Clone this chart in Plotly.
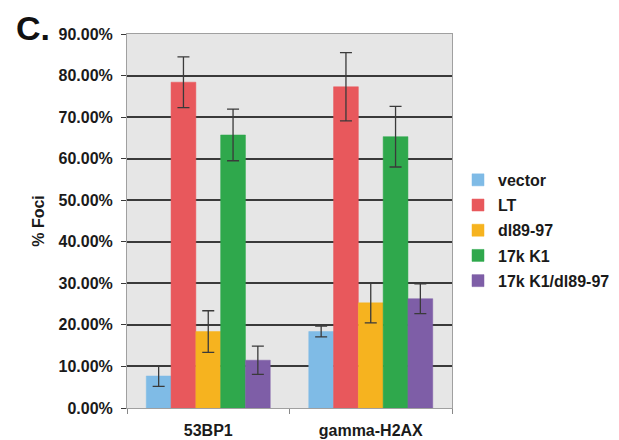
import plotly.graph_objects as go

categories = ["53BP1", "gamma-H2AX"]
series_names = ["vector", "LT", "dl89-97", "17k K1", "17k K1/dl89-97"]
values = {
    "vector": [7.7, 18.4],
    "LT": [78.4, 77.3],
    "dl89-97": [18.4, 25.3],
    "17k K1": [65.7, 65.3],
    "17k K1/dl89-97": [11.5, 26.3],
}
errors = {
    "vector": [2.5, 1.3],
    "LT": [6.1, 8.2],
    "dl89-97": [5.0, 4.8],
    "17k K1": [6.2, 7.3],
    "17k K1/dl89-97": [3.4, 3.6],
}
colors = {
    "vector": "#7fbbe6",
    "LT": "#e8585c",
    "dl89-97": "#f6b31f",
    "17k K1": "#2fa84c",
    "17k K1/dl89-97": "#7e5ea7",
}
tick_vals = [0, 10, 20, 30, 40, 50, 60, 70, 80, 90]
tick_text = ["0.00%", "10.00%", "20.00%", "30.00%", "40.00%", "50.00%",
             "60.00%", "70.00%", "80.00%", "90.00%"]

FONT = "Liberation Sans, Arial, Helvetica, sans-serif"

# the page body adds an 8px offset; the figure is sized to fill the rest
W, H = 611, 432
L, R, T, B = 119, 167, 25.5, 32.3
PW, PH = W - L - R, H - T - B

fig = go.Figure()
for name in series_names:
    fig.add_trace(go.Bar(
        name=name,
        legendgroup=name,
        x=categories,
        y=values[name],
        marker=dict(color=colors[name], line=dict(color=colors[name], width=0.5)),
        error_y=dict(type="data", array=errors[name], visible=True,
                     color="#3a3a3a", thickness=1.3, width=6),
    ))

fig.update_layout(
    width=W, height=H,
    margin=dict(l=L, r=R, t=T, b=B, autoexpand=False),
    paper_bgcolor="white",
    plot_bgcolor="#e6e6e6",
    barmode="group",
    bargap=0.237,
    bargroupgap=0,
    font=dict(family=FONT, size=16, color="#1a1a1a"),
    legend=dict(
        x=(450 - L) / PW, xanchor="left", y=1 - (154.5 - T) / PH, yanchor="top",
        font=dict(family=FONT, size=16, color="#1a1a1a", weight="bold"),
        bgcolor="rgba(0,0,0,0)",
        tracegroupgap=1.4,
        itemwidth=30,
    ),
    xaxis=dict(
        automargin=False,
        showgrid=False,
        showline=True, linecolor="#a0a0a0", linewidth=1, mirror=True,
        ticks="outside", tickson="boundaries", ticklen=5, tickcolor="#888",
        tickfont=dict(family=FONT, size=16, color="#1a1a1a", weight="bold"),
        ticklabelstandoff=8,
    ),
    yaxis=dict(
        automargin=False,
        range=[0, 90],
        tickvals=tick_vals, ticktext=tick_text,
        showgrid=True, gridcolor="#3a3a3a", gridwidth=1.6,
        showline=True, linecolor="#a0a0a0", linewidth=1, mirror=True,
        ticks="outside", ticklen=5, tickcolor="#3a3a3a",
        tickfont=dict(family=FONT, size=16, color="#1a1a1a", weight="bold"),
        ticklabelstandoff=5,
        zeroline=False,
        title=dict(text="% Foci", standoff=9,
                   font=dict(family=FONT, size=16, color="#1a1a1a", weight="bold")),
    ),
    annotations=[dict(
        text="C.", xref="paper", yref="paper", x=(6 - L) / PW, y=1 + (T - 19.5) / PH,
        xanchor="left", yanchor="middle", showarrow=False,
        font=dict(family=FONT, size=34, color="#111", weight="bold"),
    )],
)

fig.write_html("out.html")
